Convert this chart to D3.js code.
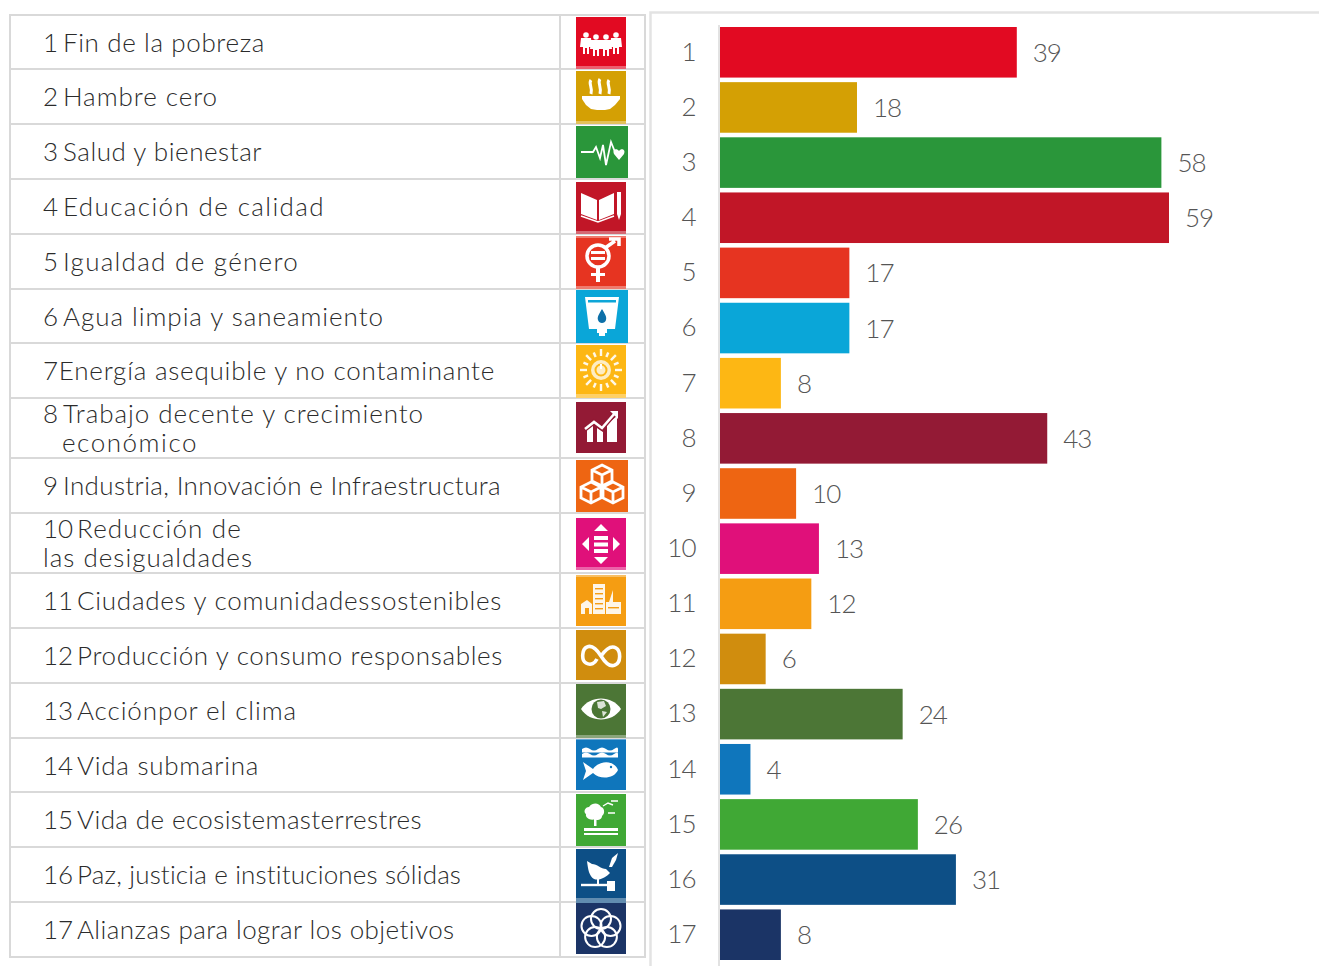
<!DOCTYPE html>
<html><head><meta charset="utf-8">
<script src="https://cdn.jsdelivr.net/npm/d3@7"></script>
<style>html,body{margin:0;padding:0;background:#fff}svg{display:block}text{font-family:Lato,sans-serif}</style>
</head><body><svg id="c" width="1319" height="966"><defs><filter id="soft" x="-10%" y="-10%" width="120%" height="120%"><feGaussianBlur stdDeviation="0.35"/></filter></defs></svg>
<script>
const ids = ["1","2","3","4","5","6","7","8","9","10","11","12","13","14","15","16","17"];
const values = [39,18,58,59,17,17,8,43,10,13,12,6,24,4,26,31,8];
const colors = ["#e20a22","#d4a004","#2a963a","#c11627","#e63421","#0aa6d8","#fdb714","#931a35","#ee6512","#e0107a","#f59d12","#d08d0e","#4c7636","#0f76bc","#40a835","#0d4f86","#1b3466"];
const labels = [
 ["1 Fin de la pobreza"],["2 Hambre cero"],["3 Salud y bienestar"],["4 Educación de calidad"],
 ["5 Igualdad de género"],["6 Agua limpia y saneamiento"],["7Energía asequible y no contaminante"],
 ["8 Trabajo decente y crecimiento","económico"],["9 Industria, Innovación e Infraestructura"],
 ["10 Reducción de","las desigualdades"],["11 Ciudades y comunidadessostenibles"],
 ["12 Producción y consumo responsables"],["13 Acciónpor el clima"],["14 Vida submarina"],
 ["15 Vida de ecosistemasterrestres"],["16 Paz, justicia e instituciones sólidas"],["17 Alianzas para lograr los objetivos"]];
// layout only: right edge of each label line in the table
const labelEnds = [[265],[218],[262],[325],[299],[384],[495],[424,198],[501],[242,253],[502],[503],[297],[259],[422],[462],[455]];
const rowEdges = [15,69,124,179,234,289,343,398,458,513,573,628,683,738,792,847,902,957];
// icon boxes: [top, height, width, strip at bottom, strip at top]
const iconBoxes = [[17,52,50,3,0],[71,53,50,3,0],[126,52,52,0,0],[182,52,50,3,0],[236,53,50,3,2],[290,53,52,0,0],[345,53,50,4,0],[402,51,50,0,0],[460,52,52,0,0],[518,52,50,3,0],[575,51,50,0,2],[630,50,50,0,0],[684,54,50,3,0],[739,51,50,0,1],[794,52,50,0,0],[849,54,50,5,0],[903,51,50,0,0]];
const W="#fff";
const glyphs = [
 g=>{[[10,22],[20,24],[30,24],[40,22]].forEach(([x,y])=>{g.append("circle").attr("cx",x).attr("cy",y-4).attr("r",2.8).attr("fill",W);
   g.append("path").attr("d",`M${x-5} ${y-1}h10l1 9h-3v7h-2v-6h-2v6h-2v-7h-3z`).attr("fill",W);});
   g.append("rect").attr("x",13).attr("y",24).attr("width",24).attr("height",2).attr("fill",W);},
 g=>{g.append("path").attr("d","M6 25H44V28L39 34L34 38L29 39H21L15 38L10 34L6 28Z").attr("fill",W);
   ["M15 9C12 13 17 16 15 23","M24 8C21 12 26 16 24 23","M33 9C30 13 35 16 33 23"].forEach(d=>g.append("path").attr("d",d).attr("fill","none").attr("stroke",W).attr("stroke-width",3));},
 g=>{g.append("path").attr("d","M5 26H17L20 21L24 32L27 19L30 39L35 16L39 26").attr("fill","none").attr("stroke",W).attr("stroke-width",1.8);
   g.append("path").attr("d","M38 28C36 23 41 22 43 25C45 22 50 23 48 28L43 34Z").attr("fill",W);},
 g=>{g.append("path").attr("d","M5 11L21 18V38L5 32Z M38 11L23 18V38L38 32Z").attr("fill",W);
   g.append("path").attr("d","M5 34L22 40L38 34").attr("fill","none").attr("stroke",W).attr("stroke-width",1.5);
   g.append("path").attr("d","M41 10H45V32L43 38L41 32Z").attr("fill",W);},
 g=>{g.append("circle").attr("cx",22).attr("cy",20).attr("r",11).attr("fill","none").attr("stroke",W).attr("stroke-width",3.5);
   g.append("path").attr("d","M15 15H29V18H15Z M15 21H29V24H15Z").attr("fill",W);
   g.append("path").attr("d","M20 31H24V37H29V40H24V46H20V40H15V37H20Z").attr("fill",W);
   g.append("path").attr("d","M29 12L39 5M33 3H43V10").attr("fill","none").attr("stroke",W).attr("stroke-width",3.5);},
 g=>{g.append("path").attr("d","M9 7H43L39 39H31V43H29V46H23V43H21V39H13Z").attr("fill",W);
   g.append("rect").attr("x",12).attr("y",10).attr("width",28).attr("height",2.5).attr("fill","#0aa6d8");
   g.append("path").attr("d","M26 19C23 24 21 27 22 30C23 34 29 34 30 30C31 27 29 24 26 19Z").attr("fill","#0a6fa8");},
 g=>{const c=g.append("g").attr("transform","translate(25,25)");
   d3.range(16).forEach(i=>{c.append("rect").attr("x",-1.2).attr("y",i%2?-19:-21).attr("width",2.4).attr("height",i%2?5:7).attr("fill",W).attr("opacity",.9).attr("transform",`rotate(${i*22.5})`);});
   c.append("circle").attr("r",10).attr("fill",W).attr("opacity",.75);
   c.append("circle").attr("r",5.5).attr("fill","none").attr("stroke","#fdb714").attr("stroke-width",2);
   c.append("rect").attr("x",-1).attr("y",-6).attr("width",2).attr("height",5).attr("fill",W);},
 g=>{g.append("path").attr("d","M11 40V28L17 23V40Z M21 40V26L27 30V40Z M31 40V22L41 14V40Z").attr("fill",W);
   g.append("path").attr("d","M9 27L18 20L26 26L39 11").attr("fill","none").attr("stroke","#931a35").attr("stroke-width",5);
   g.append("path").attr("d","M9 27L18 20L26 26L39 11").attr("fill","none").attr("stroke",W).attr("stroke-width",2.6);
   g.append("path").attr("d","M34 9H42V17Z").attr("fill",W);},
 g=>{const cube=(x,y)=>{const s=g.append("g").attr("transform",`translate(${x},${y})`).attr("fill","none").attr("stroke",W).attr("stroke-width",2.8);
     s.append("path").attr("d","M0 -10L10 -5V6L0 11L-10 6V-5Z M-10 -5L0 0L10 -5 M0 0V11");};
   cube(26,15);cube(15,32);cube(37,32);},
 g=>{g.append("path").attr("d","M25 6L32 13H18Z M25 46L32 39H18Z M6 26L13 19V33Z M44 26L37 19V33Z").attr("fill",W);
   g.append("path").attr("d","M18 18H32V22H18Z M18 24.500H32V28.500H18Z M18 31H32V35H18Z").attr("fill",W);},
 g=>{g.append("path").attr("d","M5 39V29L11 25L16 29V39H13V33H9V39Z M17 39V9H29V39Z M30 39V27H33L37 15V27H45V39Z").attr("fill",W).attr("opacity",.9);
   [13,18,23,28,33].forEach(y=>g.append("rect").attr("x",19).attr("y",y).attr("width",8).attr("height",1.4).attr("fill","#f59d12"));
   g.append("rect").attr("x",32).attr("y",32).attr("width",11).attr("height",1.4).attr("fill","#f59d12");},
 g=>{g.append("path").attr("d","M25 26C20 18 15 15 11 17C6 19 5 30 10 33C15 36 19 33 21 29M25 26C30 34 35 37 39 35C45 33 45 21 40 18C35 15 30 19 25 26").attr("fill","none").attr("stroke",W).attr("stroke-width",3.6);},
 g=>{g.append("path").attr("d","M5 25C14 11 36 11 45 25C36 39 14 39 5 25Z").attr("fill",W);
   g.append("circle").attr("cx",25).attr("cy",25).attr("r",9.5).attr("fill","#4c7636");
   g.append("path").attr("d","M21 18L28 17L30 22L25 25L22 24Z M26 27L31 28L27 33Z").attr("fill",W).attr("opacity",.8);},
 g=>{[10,15].forEach(y=>g.append("path").attr("d",`M6 ${y}q4 -3 8 0t8 0t8 0t8 0t4 0v3.500h-36z`).attr("fill",W));
   g.append("path").attr("d","M7 23L17 30C24 21 38 21 42 31C38 40 24 41 17 34L7 41L10 32Z").attr("fill",W);
   g.append("circle").attr("cx",35).attr("cy",28).attr("r",1.2).attr("fill","#0f76bc");},
 g=>{g.append("path").attr("d","M13 13C17 8 23 9 25 13C29 14 29 20 26 22C26 26 20 27 19 25C15 27 9 24 10 20C7 18 9 13 13 13Z").attr("fill",W);
   g.append("rect").attr("x",18).attr("y",24).attr("width",2.5).attr("height",8).attr("fill",W);
   g.append("path").attr("d","M8 34H42V37H8Z M8 39H42V41H8Z").attr("fill",W);
   g.append("path").attr("d","M27 12L32 9L37 11M35 7H42M32 19H39").attr("fill","none").attr("stroke",W).attr("stroke-width",1.4);},
 g=>{g.append("path").attr("d","M11 12L16 15C21 15 25 20 30 20L34 24C30 28 24 32 18 30C13 27 12 20 11 12Z").attr("fill",W);
   g.append("path").attr("d","M33 18L36 9L42 4L40 11L36 18Z").attr("fill",W);
   g.append("path").attr("d","M5 36H36").attr("stroke",W).attr("stroke-width",2.4);
   g.append("path").attr("d","M31 32H39V42H31Z").attr("fill",W);
   g.append("path").attr("d","M22 30V36").attr("stroke",W).attr("stroke-width",2);},
 g=>{const c=g.append("g").attr("transform","translate(25,26)").attr("fill","none").attr("stroke",W).attr("stroke-width",2);
   d3.range(5).forEach(i=>{const a=(i*72-90)*Math.PI/180;c.append("circle").attr("cx",10*Math.cos(a)).attr("cy",10*Math.sin(a)).attr("r",10);});}
];

const svg = d3.select("#c");
const LINE="#d9d9d9";
const T = svg.append("g");
rowEdges.forEach(y=>T.append("line").attr("x1",9).attr("x2",646).attr("y1",y).attr("y2",y).attr("stroke",LINE).attr("stroke-width",2));
[10,560,645].forEach(x=>T.append("line").attr("x1",x).attr("x2",x).attr("y1",14).attr("y2",958).attr("stroke",LINE).attr("stroke-width",2));
const put=(s,x0,yy,end)=>{
  const t=T.append("text").attr("fill","#2b2b2b").attr("font-size",26).attr("font-weight",300).attr("x",x0).attr("y",yy).text(s);
  if(end!=null){const w=t.node().getComputedTextLength();t.style("letter-spacing",((end-x0-w)/s.length)+"px");}
};
labels.forEach((ls,i)=>{
  const cy=(rowEdges[i]+rowEdges[i+1])/2;
  ls.forEach((l,k)=>{
    const yy=cy+9.5+(k-(ls.length-1)/2)*29;
    const m=l.match(/^(\d+) (.*)$/);
    if(m){
      put(m[1],43,yy,null);
      put(m[2],m[1].length===1?63:77,yy,labelEnds[i][k]);
    } else put(l,l==="económico"?62:43,yy,labelEnds[i][k]);
  });
});
iconBoxes.forEach((b,i)=>{
  const g=T.append("g").attr("transform",`translate(576,${b[0]})`);
  g.append("rect").attr("width",b[2]).attr("height",b[1]).attr("fill",colors[i]);
  if(b[3]) g.append("rect").attr("y",b[1]-b[3]).attr("width",b[2]).attr("height",b[3]).attr("fill",W).attr("opacity",.35);
  if(b[4]) g.append("rect").attr("width",b[2]).attr("height",b[4]).attr("fill",W).attr("opacity",.35);
  const inner=g.append("g").attr("filter","url(#soft)");
  glyphs[i](inner);
});
const x=d3.scaleLinear().domain([0,59]).range([720,1169]);
const y=d3.scaleBand().domain(ids).range([27,960]).paddingInner(0.083).paddingOuter(0);
svg.append("path").attr("d","M650.5 966V12.5H1319").attr("fill","none").attr("stroke","#e3e3e3").attr("stroke-width",2.5);
const ax=svg.append("g").attr("transform","translate(719,0)").call(d3.axisLeft(y).tickSize(0).tickPadding(23.5));
ax.select(".domain").attr("stroke","#d9d9d9").attr("stroke-width",1.5).attr("d","M0 25V966");
ax.selectAll("text").attr("font-size",26).attr("font-weight",300).attr("fill","#555").attr("dy","0.32em").style("font-family","Lato,sans-serif").style("letter-spacing","-1px");
svg.selectAll("rect.bar").data(values).join("rect").attr("class","bar")
  .attr("x",x(0)).attr("y",(d,i)=>y(ids[i])).attr("width",d=>x(d)-x(0)).attr("height",y.bandwidth()).attr("fill",(d,i)=>colors[i]);
svg.selectAll("text.val").data(values).join("text").attr("class","val")
  .attr("x",d=>x(d)+16).attr("y",(d,i)=>y(ids[i])+y.bandwidth()/2+9.5).attr("font-size",26).attr("font-weight",300).attr("fill","#555").style("letter-spacing","-1px").text(d=>d);
</script></body></html>
